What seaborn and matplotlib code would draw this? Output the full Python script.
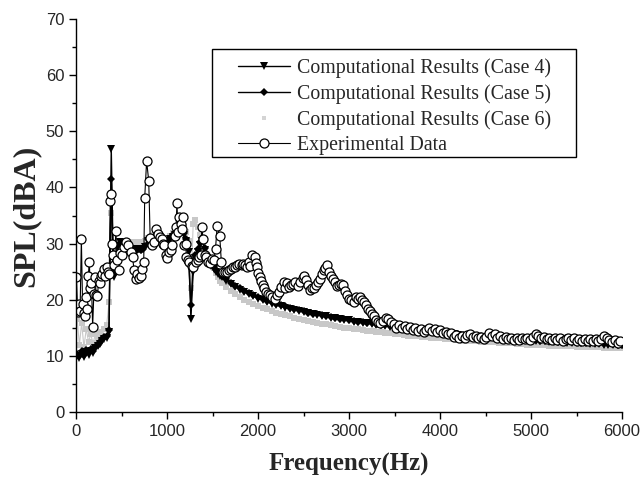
import matplotlib
matplotlib.use("Agg")
import matplotlib.pyplot as plt
from matplotlib.ticker import MultipleLocator
from matplotlib.patches import Rectangle
from matplotlib.lines import Line2D
import seaborn as sns
import numpy as np

# computed results: 25 Hz steps up to 1600 Hz, then 50 Hz steps
f_comp_low = [12.5 + 25 * k for k in range(64)]
f_comp_high = list(range(1600, 6001, 50))

case4_low = [10.0, 9.6, 10.4, 9.8, 10.6, 10.1, 10.9, 10.5, 11.3, 11.8, 12.1, 12.6, 12.9, 13.2, 14.3, 46.8,
             24.0, 26.5, 29.5, 30.3, 30.0, 29.6, 29.2, 29.0, 28.8, 29.0, 28.8, 29.1, 28.9, 29.0, 29.4, 30.5,
             30.2, 30.5, 30.8, 31.0, 30.6, 30.8, 30.2, 30.0, 30.4, 30.8, 31.2, 31.6, 32.5, 31.8, 33.0, 31.5,
             30.5, 28.5, 16.6, 25.0, 27.5, 28.5, 29.8, 30.5, 28.8, 27.5, 26.8, 26.0, 25.5, 25.0, 24.6, 24.2]
case4_high = [24.0, 23.4, 22.8, 22.3, 21.8, 21.4, 21.0, 20.6, 20.2, 19.9,
              19.6, 19.3, 19.0, 18.8, 18.6, 18.4, 18.2, 18.0, 17.8, 17.6,
              17.4, 17.3, 17.1, 17.0, 16.8, 16.7, 16.5, 16.4, 16.3, 16.1,
              16.0, 15.9, 15.8, 15.7, 15.5, 15.4, 15.3, 15.2, 15.1, 15.0,
              14.9, 14.8, 14.7, 14.6, 14.5, 14.4, 14.3, 14.2, 14.1, 14.0,
              13.9, 13.8, 13.7, 13.6, 13.6, 13.5, 13.4, 13.4, 13.3, 13.2,
              13.2, 13.1, 13.0, 13.0, 12.9, 12.9, 12.8, 12.8, 12.7, 12.7,
              12.6, 12.6, 12.5, 12.5, 12.4, 12.4, 12.3, 12.3, 12.3, 12.2,
              12.2, 12.1, 12.1, 12.1, 12.0, 12.0, 12.0, 11.9, 11.9]

case5_low = [10.3, 10.0, 10.8, 10.2, 11.0, 10.6, 11.2, 10.9, 11.6, 12.0, 12.4, 12.9, 13.3, 13.6, 14.6, 41.5,
             24.5, 27.0, 29.8, 30.0, 29.8, 29.4, 29.0, 28.8, 28.6, 28.8, 28.7, 29.0, 28.8, 29.1, 29.6, 30.8,
             30.5, 30.8, 31.2, 31.3, 30.9, 31.0, 30.5, 30.3, 30.6, 31.0, 31.5, 31.9, 32.8, 32.0, 33.4, 31.8,
             30.8, 27.5, 19.0, 26.0, 28.0, 29.0, 30.2, 31.0, 29.2, 27.8, 27.0, 26.3, 25.8, 25.3, 24.9, 24.5]
case5_high = [24.3, 23.6, 23.0, 22.5, 22.0, 21.6, 21.2, 20.8, 20.4, 20.1,
              19.8, 19.5, 19.2, 19.0, 18.8, 18.5, 18.3, 18.1, 17.9, 17.7,
              17.5, 17.4, 17.2, 17.1, 16.9, 16.8, 16.6, 16.5, 16.4, 16.2,
              16.1, 16.0, 15.9, 15.8, 15.6, 15.5, 15.4, 15.3, 15.2, 15.1,
              15.0, 14.9, 14.8, 14.7, 14.6, 14.5, 14.4, 14.3, 14.2, 14.1,
              14.0, 13.9, 13.8, 13.7, 13.7, 13.6, 13.5, 13.5, 13.4, 13.3,
              13.3, 13.2, 13.1, 13.1, 13.0, 13.0, 12.9, 12.9, 12.8, 12.8,
              12.7, 12.7, 12.6, 12.6, 12.5, 12.5, 12.4, 12.4, 12.4, 12.3,
              12.3, 12.2, 12.2, 12.2, 12.1, 12.1, 12.1, 12.0, 12.0]

case6_low = [16.5, 12.0, 15.8, 11.5, 14.8, 12.5, 13.8, 12.2, 13.8, 13.0, 14.2, 13.6, 14.8, 15.5, 19.5, 35.5,
             25.0, 28.0, 29.0, 29.5, 29.4, 29.2, 29.0, 29.6, 30.0, 30.3, 29.8, 30.2, 29.9, 30.0, 30.4, 31.0,
             31.0, 31.4, 31.6, 31.8, 31.5, 31.3, 31.0, 30.8, 31.0, 31.3, 31.8, 32.2, 33.0, 32.8, 33.8, 33.0,
             32.0, 30.5, 22.0, 33.5, 34.2, 33.0, 31.5, 30.2, 28.8, 27.8, 27.0, 26.3, 25.6, 24.8, 24.0, 23.4]
case6_high = [23.0, 22.2, 21.5, 21.0, 20.5, 20.0, 19.6, 19.2, 18.9, 18.6,
              18.3, 18.0, 17.7, 17.5, 17.2, 17.0, 16.8, 16.6, 16.4, 16.2,
              16.0, 15.9, 15.7, 15.6, 15.4, 15.3, 15.2, 15.0, 14.9, 14.8,
              14.7, 14.6, 14.5, 14.4, 14.3, 14.2, 14.1, 14.0, 13.9, 13.8,
              13.7, 13.6, 13.5, 13.5, 13.4, 13.3, 13.2, 13.2, 13.1, 13.0,
              12.9, 12.9, 12.8, 12.7, 12.7, 12.6, 12.6, 12.5, 12.5, 12.4,
              12.4, 12.3, 12.3, 12.2, 12.2, 12.1, 12.1, 12.0, 12.0, 12.0,
              11.9, 11.9, 11.8, 11.8, 11.8, 11.7, 11.7, 11.7, 11.6, 11.6,
              11.6, 11.5, 11.5, 11.5, 11.4, 11.4, 11.4, 11.3, 11.3]

exp_freq_low = [5, 18, 30, 45, 59, 72, 85, 96, 110, 122, 135, 146, 158, 170, 183, 196, 210, 222, 236, 248,
                262, 275, 290, 305, 320, 338, 352, 365, 378, 388, 398, 411, 422, 438, 452, 470, 485, 500,
                525, 552, 575, 600, 621, 639, 655, 675, 695, 712, 730, 744, 755, 776, 799, 815, 835, 858,
                881, 903, 920, 940, 955, 972, 988, 1004, 1020, 1040, 1060, 1086, 1100, 1109, 1122, 1135,
                1150, 1168, 1180, 1191, 1205, 1214, 1232, 1246, 1270, 1291, 1314, 1335, 1351, 1370, 1383,
                1396, 1412, 1428, 1451, 1475, 1497, 1515, 1533, 1551, 1579, 1597]
exp_spl_low = [24.0, 17.8, 19.2, 18.0, 30.8, 19.3, 17.6, 17.0, 20.5, 18.4, 24.2, 26.7, 22.0, 22.9, 15.2, 21.0,
               24.0, 20.8, 20.6, 23.3, 23.0, 24.3, 24.6, 25.5, 24.3, 25.8, 25.0, 24.5, 37.6, 38.8, 30.0,
               27.9, 26.1, 32.2, 27.0, 25.2, 28.3, 27.9, 29.4, 30.2, 29.8, 28.5, 27.6, 25.2, 23.7, 24.6,
               23.8, 24.3, 25.5, 26.7, 38.2, 44.7, 41.2, 31.0, 29.7, 30.3, 32.6, 31.7, 31.2, 30.8, 30.0,
               29.7, 28.0, 27.5, 28.5, 28.8, 29.8, 31.4, 33.0, 37.2, 32.0, 34.7, 33.5, 32.6, 34.7, 29.7,
               30.0, 27.6, 27.0, 26.7, 26.0, 25.8, 26.7, 27.0, 27.6, 28.0, 32.9, 30.8, 28.0, 27.6, 26.7,
               26.5, 27.3, 27.0, 29.1, 33.2, 31.4, 26.7]

exp_freq_mid = [1615, 1634, 1660, 1680, 1702, 1725, 1750, 1770, 1795, 1820, 1839, 1860, 1880, 1898, 1915,
                1935, 1962, 1975, 1989, 2005, 2021, 2037, 2053, 2070, 2090, 2110, 2135, 2155, 2181, 2205,
                2227, 2255, 2282, 2300, 2318, 2340, 2364, 2385, 2409, 2435, 2464, 2490, 2510, 2530, 2546,
                2570, 2592, 2615, 2637, 2660, 2683, 2700, 2720, 2740, 2756, 2775, 2797, 2820, 2843, 2865,
                2888, 2910, 2934, 2955, 2980, 3000, 3025, 3050, 3071, 3095, 3117, 3140, 3162, 3185, 3208,
                3230, 3253, 3275, 3299, 3320, 3345, 3375, 3404, 3430, 3459]
exp_spl_mid = [25.0, 24.9, 25.0, 25.3, 25.5, 25.8, 25.9, 26.1, 26.3, 26.2, 26.4, 26.2, 25.9, 26.7, 26.0,
               27.9, 27.6, 26.5, 25.8, 24.8, 24.0, 23.3, 22.6, 22.0, 21.4, 21.0, 20.8, 20.5, 20.2, 20.8,
               21.4, 22.3, 23.2, 22.0, 22.9, 22.3, 22.6, 22.8, 23.2, 22.5, 23.2, 23.8, 24.3, 23.5, 22.6,
               21.8, 22.0, 22.1, 22.6, 23.2, 23.7, 24.5, 25.2, 25.6, 26.1, 25.0, 24.3, 23.6, 23.2, 22.5,
               22.6, 22.8, 22.6, 21.5, 20.8, 20.2, 19.9, 19.6, 20.5, 20.2, 20.5, 19.9, 19.6, 19.0, 18.4,
               18.0, 17.5, 17.0, 16.4, 16.0, 15.8, 16.2, 16.7, 16.5, 16.1]

exp_freq_high = list(range(3490, 6000, 30))
exp_spl_high = [15.6, 15.0, 15.4, 14.9, 15.3, 14.8, 15.1, 14.6, 14.9, 14.4, 14.8, 14.3, 14.6, 14.9, 14.4,
                14.8, 14.3, 14.6, 14.1, 14.3, 13.8, 14.0, 13.4, 13.7, 13.1, 13.5, 13.2, 13.7, 13.9, 13.4,
                13.6, 13.1, 13.4, 12.9, 13.3, 14.1, 13.6, 13.8, 13.2, 13.5, 13.0, 13.3, 12.9, 13.2, 12.8,
                13.1, 12.8, 13.2, 12.9, 13.2, 12.8, 13.4, 13.8, 13.5, 13.1, 13.4, 12.9, 13.2, 12.8, 13.1,
                12.8, 13.1, 12.7, 13.0, 13.2, 12.8, 13.1, 12.7, 13.0, 12.7, 13.0, 12.7, 13.0, 12.6, 12.9,
                12.6, 13.0, 13.6, 13.2, 12.8, 12.4, 12.8, 12.2, 12.6]

labels = ["Computational Results (Case 4)", "Computational Results (Case 5)",
          "Computational Results (Case 6)", "Experimental Data"]

f_comp = np.array(f_comp_low + f_comp_high, dtype=float)
case4 = np.array(case4_low + case4_high)
case5 = np.array(case5_low + case5_high)
case6 = np.array(case6_low + case6_high)
exp_freq = np.array(exp_freq_low + exp_freq_mid + exp_freq_high, dtype=float)
exp_spl = np.array(exp_spl_low + exp_spl_mid + exp_spl_high)

sns.set_style("ticks")
plt.rcParams["font.family"] = ["Liberation Serif", "DejaVu Serif"]

fig, ax = plt.subplots(figsize=(6.44, 4.8), dpi=100)
fig.subplots_adjust(left=0.118, right=0.966, bottom=0.142, top=0.960)

sns.lineplot(x=f_comp, y=case6, ax=ax, estimator=None, sort=False, color="#c8c8c8",
             lw=0.8, marker="s", markersize=4, markeredgewidth=0)
sns.lineplot(x=f_comp, y=case4, ax=ax, estimator=None, sort=False, color="black",
             lw=1.0, marker="v", markersize=6, markeredgewidth=0, label=labels[0])
sns.lineplot(x=f_comp, y=case5, ax=ax, estimator=None, sort=False, color="black",
             lw=1.0, marker="D", markersize=4.5, markeredgewidth=0, label=labels[1])
sns.lineplot(x=exp_freq, y=exp_spl, ax=ax, estimator=None, sort=False, color="black",
             lw=0.8, marker="o", markersize=6.5, markerfacecolor="white",
             markeredgecolor="black", markeredgewidth=0.9, label=labels[3])

ax.set_xlim(0, 6000)
ax.set_ylim(0, 70)
ax.xaxis.set_major_locator(MultipleLocator(1000))
ax.xaxis.set_minor_locator(MultipleLocator(500))
ax.yaxis.set_major_locator(MultipleLocator(10))
ax.yaxis.set_minor_locator(MultipleLocator(5))
ax.tick_params(which="major", direction="out", length=5, width=1, color="black")
ax.tick_params(which="minor", direction="out", length=3, width=1, color="black")
for lab in ax.get_xticklabels() + ax.get_yticklabels():
    lab.set_family(["Liberation Sans Narrow", "Liberation Sans", "DejaVu Sans"])
    lab.set_fontsize(12)
sns.despine(ax=ax)
for s in ["left", "bottom"]:
    ax.spines[s].set_linewidth(1)
    ax.spines[s].set_color("black")

ax.set_xlabel("Frequency(Hz)", fontsize=18, fontweight="bold", labelpad=10)
ax.set_ylabel("SPL(dBA)", fontsize=23, fontweight="bold", labelpad=4)

# legend entries without own frame, box drawn separately (wider side padding)
handles, _ = ax.get_legend_handles_labels()
grey_handle = Line2D([], [], linestyle="none", marker="s", markersize=3,
                     markerfacecolor="#d4d4d4", markeredgewidth=0)
leg = ax.legend([handles[0], handles[1], grey_handle, handles[2]], labels, loc="upper left",
                bbox_to_anchor=(0.297, 0.9), borderaxespad=0, borderpad=0, fontsize=14.3,
                frameon=False, handlelength=2.6, handletextpad=0.35, labelspacing=0.3)
ax.add_patch(Rectangle((0.249, 0.649), 0.667, 0.275, transform=ax.transAxes,
                       facecolor="white", edgecolor="black", lw=1, zorder=4))
leg.set_zorder(5)

fig.savefig("out.png", dpi=100)
